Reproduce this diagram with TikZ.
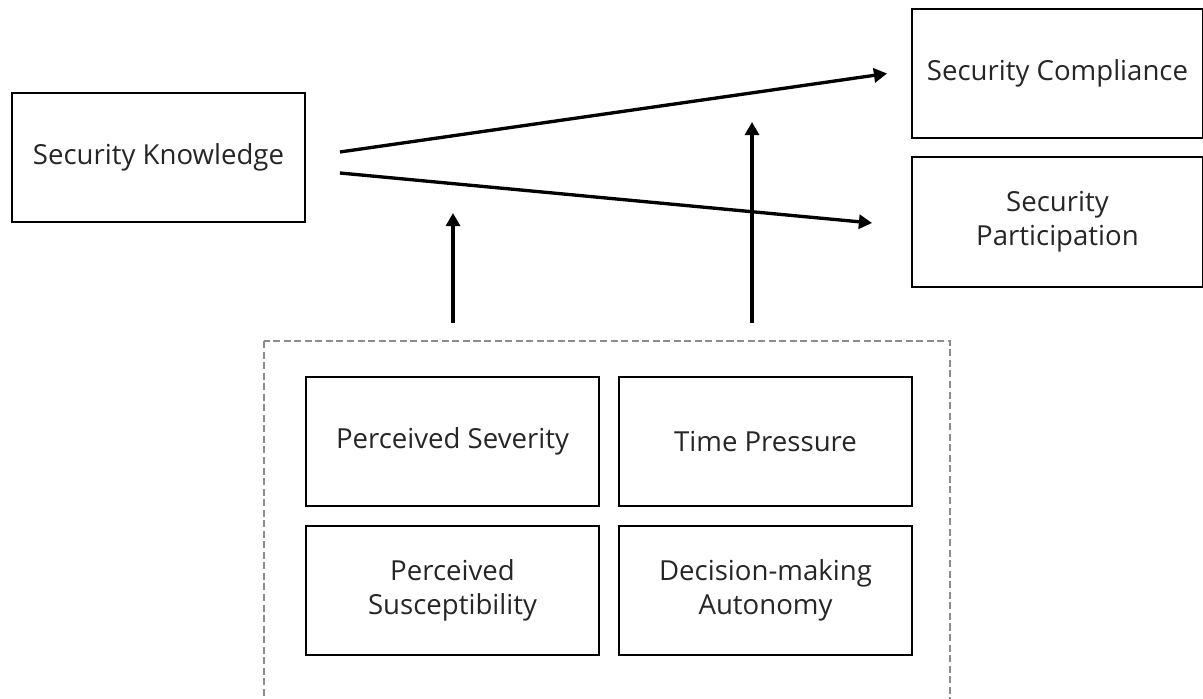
\documentclass[tikz,border=0pt]{standalone}
\usepackage{fontspec}
\setmainfont{Open Sans}
\usetikzlibrary{arrows.meta,calc}
\tikzset{
  box/.style={draw=black,line width=1.1pt,minimum width=5.86cm,minimum height=2.58cm,align=center,font=\fontsize{15.7}{19.5}\selectfont,text=black!85,inner sep=2pt},
  arr/.style={-{Triangle[length=7.5pt,width=8pt]},line width=1.9pt},
  grp/.style={draw=black!45,line width=0.8pt,dash pattern=on 4pt off 2pt},
}
\begin{document}
\begin{tikzpicture}[x=0.02cm,y=-0.02cm]
  \useasboundingbox (0,0) rectangle (1203,699);
  % outcome and predictor
  \node[box] (sk) at (158.5,157.5) {Security Knowledge};
  \node[box,minimum width=5.82cm] (sc) at (1057.5,73.5) {Security Compliance};
  \node[box,minimum width=5.82cm,minimum height=2.6cm] (sp) at (1057.5,222) {Security\\ Participation};
  % moderators
  \draw[grp] (264,341) rectangle (950,712);
  \node[box] (ps) at (452.5,441.5) {Perceived Severity};
  \node[box] (tp) at (765.5,441.5) {Time Pressure};
  \node[box] (pu) at (452.5,590.5) {Perceived\\ Susceptibility};
  \node[box] (da) at (765.5,590.5) {Decision-making\\ Autonomy};
  % paths
  \coordinate (k1) at ($(sk.east)+(34,-5.5)$);
  \coordinate (k2) at ($(sk.east)+(34,15.5)$);
  \coordinate (c1) at ($(sc.west)+(-24,0)$);
  \coordinate (p1) at ($(sp.west)+(-39,1)$);
  \draw[arr] (k1) -- (c1);
  \draw[arr] (k2) -- (p1);
  \coordinate (m1) at (453,323);
  \coordinate (m2) at (752,323);
  \draw[arr] (m1) -- ++(0,-110);
  \draw[arr] (m2) -- ++(0,-201);
\end{tikzpicture}
\end{document}
